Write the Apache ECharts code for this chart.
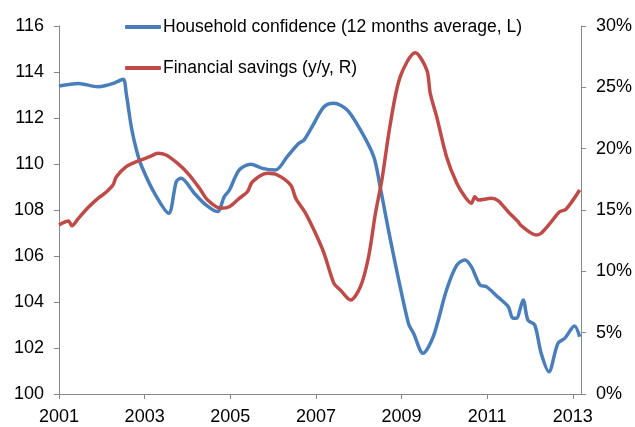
<!DOCTYPE html>
<html>
<head>
<meta charset="utf-8">
<script src="https://cdn.jsdelivr.net/npm/echarts@6/dist/echarts.min.js"></script>
<style>html,body{margin:0;padding:0;background:#fff}#c{width:635px;height:427px}</style>
</head>
<body>
<div id="c"></div>
<script>
var xTicks = [2001, 2003, 2005, 2007, 2009, 2011, 2013];
var leftTicks = [100, 102, 104, 106, 108, 110, 112, 114, 116];
var rightTicks = [0, 5, 10, 15, 20, 25, 30];
var seriesNames = ['Household confidence (12 months average, L)', 'Financial savings (y/y, R)'];

var confidenceDates = [2001.00,2001.45,2001.91,2002.07,2002.30,2002.50,2002.57,2002.69,2002.81,2002.93,2003.23,2003.56,2003.74,2003.85,2004.16,2004.43,2004.70,2004.86,2004.98,2005.21,2005.48,2005.75,2006.06,2006.33,2006.60,2006.72,2006.91,2007.19,2007.42,2007.73,2008.04,2008.35,2008.50,2008.74,2009.16,2009.28,2009.50,2009.74,2010.05,2010.29,2010.48,2010.63,2010.83,2010.98,2011.26,2011.49,2011.60,2011.68,2011.84,2011.95,2012.11,2012.26,2012.44,2012.65,2012.81,2013.04,2013.16];
var confidenceValues = [113.39,113.50,113.36,113.40,113.53,113.68,113.07,111.60,110.60,109.90,108.73,107.86,109.23,109.38,108.73,108.22,107.93,108.58,108.87,109.74,109.99,109.81,109.74,110.32,110.90,111.04,111.62,112.49,112.64,112.35,111.48,110.32,109.01,106.70,103.07,102.64,101.77,102.49,104.52,105.60,105.83,105.54,104.74,104.67,104.20,103.80,103.29,103.29,104.09,103.22,103.00,101.77,100.97,102.20,102.42,102.96,102.49];

var savingsDates = [2001.00,2001.22,2001.30,2001.45,2001.68,2001.91,2002.07,2002.26,2002.34,2002.57,2002.81,2003.12,2003.31,2003.50,2003.77,2004.01,2004.28,2004.47,2004.78,2004.98,2005.21,2005.40,2005.52,2005.87,2006.10,2006.41,2006.53,2006.76,2006.99,2007.19,2007.42,2007.57,2007.81,2008.04,2008.23,2008.39,2008.54,2008.74,2008.97,2009.32,2009.59,2009.67,2009.82,2010.05,2010.29,2010.48,2010.63,2010.71,2010.79,2011.10,2011.26,2011.49,2011.72,2011.80,2012.15,2012.26,2012.50,2012.69,2012.84,2013.16];
var savingsValues = [13.78,14.10,13.71,14.30,15.20,15.95,16.36,17.04,17.71,18.53,18.94,19.35,19.62,19.48,18.80,17.99,16.77,15.81,15.14,15.27,15.95,16.49,17.31,17.99,17.85,17.04,15.95,14.73,13.10,11.47,9.02,8.48,7.66,8.75,11.19,14.73,17.45,22.07,25.87,27.82,26.41,24.51,22.61,19.35,17.18,16.08,15.55,16.08,15.81,15.95,15.75,14.86,14.05,13.70,12.96,13.10,14.05,14.86,15.06,16.63];

function zip(a, b) { return a.map(function (d, i) { return [d, b[i]]; }); }

var axisColor = '#868686';
var font = 'Liberation Sans, Arial, sans-serif';
var chart = echarts.init(document.getElementById('c'), null, {renderer: 'canvas'});
chart.setOption({
  animation: false,
  backgroundColor: '#fff',
  grid: {left: 59, right: 52, top: 26, bottom: 33, containLabel: false},
  legend: {
    orient: 'vertical', left: 120, top: 13, icon: 'roundRect',
    itemWidth: 36, itemHeight: 4, itemGap: 23,
    textStyle: {fontFamily: font, fontSize: 17.5, color: '#000', padding: [0, 0, 0, -3]},
    data: seriesNames
  },
  xAxis: {
    type: 'value', min: 2001, max: 2013.19,
    splitLine: {show: false},
    axisLine: {onZero: false, lineStyle: {color: axisColor, width: 1}},
    axisTick: {length: 5, lineStyle: {color: axisColor}, customValues: xTicks},
    axisLabel: {customValues: xTicks, fontFamily: font, fontSize: 18, color: '#000', margin: 14,
      formatter: function (v) { return String(Math.round(v)); }}
  },
  yAxis: [{
    type: 'value', min: 100, max: 116, interval: 2, position: 'left',
    splitLine: {show: false},
    axisLine: {show: true, lineStyle: {color: axisColor, width: 1}},
    axisTick: {show: true, length: 5, lineStyle: {color: axisColor}},
    axisLabel: {fontFamily: font, fontSize: 18, color: '#000', margin: 15}
  }, {
    type: 'value', min: 0, max: 30, interval: 5, position: 'right',
    splitLine: {show: false},
    axisLine: {show: true, lineStyle: {color: axisColor, width: 1}},
    axisTick: {show: true, length: 5, lineStyle: {color: axisColor}},
    axisLabel: {fontFamily: font, fontSize: 18, color: '#000', margin: 15, formatter: '{value}%'}
  }],
  series: [{
    name: seriesNames[0], type: 'line', yAxisIndex: 0, showSymbol: false, symbol: 'none',
    smooth: 0.3, data: zip(confidenceDates, confidenceValues),
    lineStyle: {color: '#4A7EBB', width: 3.5}, itemStyle: {color: '#4A7EBB'}
  }, {
    name: seriesNames[1], type: 'line', yAxisIndex: 1, showSymbol: false, symbol: 'none',
    smooth: 0.3, data: zip(savingsDates, savingsValues),
    lineStyle: {color: '#BE4B48', width: 3.5}, itemStyle: {color: '#BE4B48'}
  }]
});
</script>
</body>
</html>
